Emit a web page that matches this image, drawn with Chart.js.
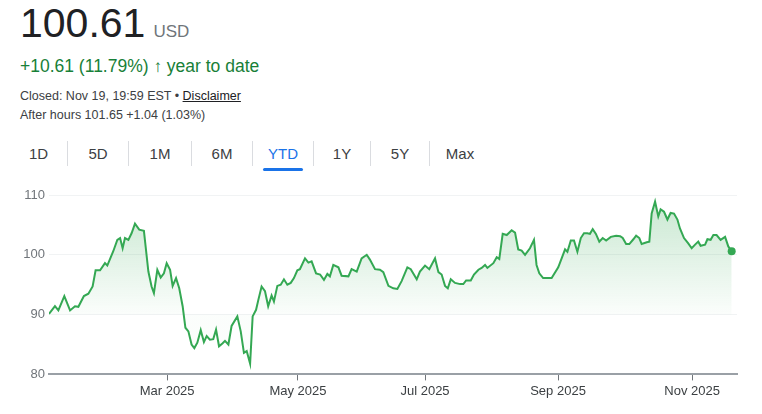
<!DOCTYPE html>
<html>
<head>
<meta charset="utf-8">
<script src="https://cdn.jsdelivr.net/npm/chart.js@4"></script>
<style>
  body { margin: 0; background: #fff; font-family: "Liberation Sans", Arial, sans-serif; color: #202124; }
  #wrap { position: relative; width: 762px; height: 414px; overflow: hidden; }
  .price { position: absolute; left: 20px; top: 0px; font-size: 41px; }
  .price span { font-size: 17px; color: #70757a; margin-left: 8px; }
  .chg { position: absolute; left: 20px; top: 56px; font-size: 17.5px; color: #188038; }
  .chg b { font-size: 17px; }
  .meta { position: absolute; left: 20px; font-size: 12.5px; color: #3c4043; }
  .meta u { color: #202124; }
  .tabs { position: absolute; left: 10px; top: 141px; display: flex; font-size: 15px; color: #3c4043; }
  .tabs div { padding: 4px 0; text-align: center; border-right: 1px solid #dadce0; }
  .tabs div:last-child { border-right: none; }
  .tabs .on { color: #1a73e8; position: relative; }
  .tabs .on::after { content: ""; position: absolute; left: 0; right: 0; bottom: -5px; height: 3px; margin: 0 auto; width: 40px; background: #1a73e8; border-radius: 2px; }
  canvas { position: absolute; left: 0; top: 180px; }
</style>
</head>
<body>
<div id="wrap">
  <div class="price">100.61<span>USD</span></div>
  <div class="chg">+10.61 (11.79%) <b>&#8593;</b> year to date</div>
  <div class="meta" style="top:89px">Closed: Nov 19, 19:59 EST • <u>Disclaimer</u></div>
  <div class="meta" style="top:108px">After hours 101.65 +1.04 (1.03%)</div>
  <div class="tabs" id="tabs"></div>
  <canvas id="c" width="762" height="222"></canvas>
</div>
<script>
// ranges shown in the tab row
const ranges = ['1D', '5D', '1M', '6M', 'YTD', '1Y', '5Y', 'Max'];
const tabWidths = [57, 60, 62, 60, 60, 56, 58, 60];

// days since Jan 1 2025 and closing price
const days = [0, 2.8, 4.4, 7.2, 9.9, 12.2, 13.8, 16.4, 18.5, 20.5, 21.9, 24.0, 26.3, 27.4, 30.2, 32.1, 33.4, 34.6, 35.7, 37.3,
  38.8, 40.4, 42.4, 44.6, 46.7, 48.2, 49.3, 50.9, 52.5, 54.0, 55.3, 56.9, 58.1, 59.7, 61.2, 62.8, 64.1, 65.5, 67.0, 68.3,
  69.7, 71.3, 72.8, 74.1, 75.6, 77.2, 78.5, 79.9, 81.6, 82.7, 84.3, 85.8, 88.5, 90.1, 91.6, 92.9, 94.5, 95.7, 97.3, 98.4,
  99.9, 101.5, 103.0, 104.6, 105.7, 107.3, 108.9, 110.4, 112.0, 113.6, 115.1, 116.7, 117.9, 120.3, 121.9, 123.4, 125.5, 127.4, 129.2, 130.8,
  132.0, 133.6, 136.0, 137.5, 140.7, 142.2, 144.6, 146.9, 149.3, 150.8, 153.2, 155.5, 157.1, 159.5, 161.8, 163.7, 165.7, 168.4, 170.0, 172.8,
  174.3, 176.7, 178.7, 181.4, 183.0, 184.5, 186.1, 187.4, 188.8, 190.8, 193.2, 194.7, 196.0, 198.2, 199.7, 201.8, 203.3, 204.9, 206.0, 208.8,
  210.4, 211.6, 213.2, 215.1, 217.4, 219.0, 220.5, 222.1, 223.7, 226.0, 227.9, 229.1, 230.4, 232.2, 236.2, 239.3, 240.9, 242.5, 243.6, 245.2,
  246.7, 248.3, 249.9, 251.4, 253.0, 254.2, 255.5, 257.0, 258.6, 260.2, 261.8, 264.0, 266.5, 268.4, 269.6, 271.2, 272.7, 274.6, 275.9, 277.4,
  278.5, 280.9, 282.1, 283.2, 284.8, 286.3, 287.4, 289.0, 290.6, 292.1, 293.7, 295.3, 296.5, 298.4, 300.4, 302.0, 303.6, 305.1, 306.2, 308.3,
  309.4, 310.9, 312.2, 313.7, 315.6, 317.7, 319.2, 320.8];
const prices = [90.1, 91.4, 90.7, 93.1, 90.7, 91.4, 91.3, 93.1, 93.5, 94.7, 97.4, 97.4, 98.6, 98.2, 100.6, 102.5, 102.8, 101.1, 102.8, 102.5,
  103.6, 105.2, 104.2, 104.0, 97.2, 94.7, 93.6, 97.5, 96.2, 96.9, 98.6, 97.5, 94.8, 96.1, 94.4, 91.4, 87.8, 87.2, 85.0, 84.4,
  85.3, 87.4, 85.4, 86.4, 85.8, 85.9, 87.5, 84.7, 85.2, 85.6, 85.0, 88.1, 89.7, 87.2, 83.6, 83.9, 81.8, 89.7, 90.8, 92.5,
  94.7, 93.9, 91.4, 93.2, 92.2, 94.8, 95.0, 95.9, 95.0, 95.3, 96.1, 97.4, 97.6, 99.4, 98.7, 98.9, 96.9, 96.7, 95.8, 96.8,
  96.4, 98.3, 97.9, 96.5, 96.4, 97.6, 97.2, 99.4, 100.0, 99.2, 97.6, 97.5, 97.1, 94.8, 94.4, 94.3, 95.6, 97.9, 97.6, 95.9,
  97.2, 98.2, 97.6, 99.4, 97.1, 96.7, 94.8, 94.4, 95.9, 95.3, 95.1, 95.1, 95.7, 95.7, 96.7, 97.5, 97.8, 98.3, 97.8, 98.6,
  99.6, 99.3, 103.5, 103.3, 104.1, 103.7, 100.9, 100.7, 100.0, 101.1, 102.5, 98.3, 96.9, 96.1, 96.1, 97.9, 99.4, 100.9, 100.5, 102.4,
  102.4, 100.5, 102.8, 103.6, 103.6, 103.5, 104.3, 103.5, 102.2, 102.8, 102.4, 103.0, 103.2, 103.1, 102.8, 101.8, 101.8, 102.6, 103.2, 102.8,
  101.8, 102.1, 102.2, 106.9, 108.9, 106.4, 107.6, 107.2, 105.9, 107.0, 106.9, 105.9, 104.4, 102.8, 101.9, 101.1, 101.7, 102.2, 101.5, 101.7,
  102.6, 102.5, 103.3, 103.3, 102.5, 103.0, 101.4, 100.61];

// month ticks (day position, label)
const tickDays = [55.5, 117.0, 176.7, 239.2, 302.2];
const tickLabels = ['Mar 2025', 'May 2025', 'Jul 2025', 'Sep 2025', 'Nov 2025'];
const yTicks = [80, 90, 100, 110];

const tabs = document.getElementById('tabs');
ranges.forEach((r, i) => {
  const d = document.createElement('div');
  d.textContent = r;
  d.style.width = tabWidths[i] + 'px';
  if (r === 'YTD') d.className = 'on';
  tabs.appendChild(d);
});

const font = { family: '"Liberation Sans", Arial, sans-serif', size: 13 };
const points = days.map((d, i) => ({ x: d, y: prices[i] }));

new Chart(document.getElementById('c'), {
  type: 'line',
  data: {
    datasets: [{
      data: points,
      borderColor: '#34a853',
      borderWidth: 2,
      tension: 0,
      pointRadius: ctx => ctx.dataIndex === points.length - 1 ? 4 : 0,
      pointBackgroundColor: '#34a853',
      pointBorderWidth: 0,
      fill: { value: 90 },
      backgroundColor: ctx => {
        const a = ctx.chart.chartArea;
        if (!a) return 'rgba(52,168,83,0.1)';
        const y90 = ctx.chart.scales.y.getPixelForValue(90);
        const g = ctx.chart.ctx.createLinearGradient(0, a.top, 0, y90);
        g.addColorStop(0, 'rgba(52,168,83,0.28)');
        g.addColorStop(1, 'rgba(52,168,83,0.02)');
        return g;
      }
    }]
  },
  options: {
    responsive: false,
    animation: false,
    layout: { padding: { left: 4, right: 25, top: 15, bottom: 0 } },
    plugins: { legend: { display: false }, tooltip: { enabled: false } },
    scales: {
      x: {
        type: 'linear', min: 0, max: 323.3,
        afterBuildTicks: s => { s.ticks = tickDays.map(v => ({ value: v })); },
        ticks: {
          autoSkip: false, maxRotation: 0, color: '#3c4043', font,
          callback: (v, i) => tickLabels[i]
        },
        grid: { drawOnChartArea: false, drawTicks: true, tickLength: 6, color: '#70757a' },
        border: { color: '#9aa0a6', width: 2 }
      },
      y: {
        min: 80, max: 110,
        afterBuildTicks: s => { s.ticks = yTicks.map(v => ({ value: v })); },
        afterFit: s => { s.width = 45; },
        ticks: { color: '#70757a', padding: 4, font },
        grid: { color: '#f1f3f4', drawTicks: false },
        border: { display: false }
      }
    }
  }
});
</script>
</body>
</html>
